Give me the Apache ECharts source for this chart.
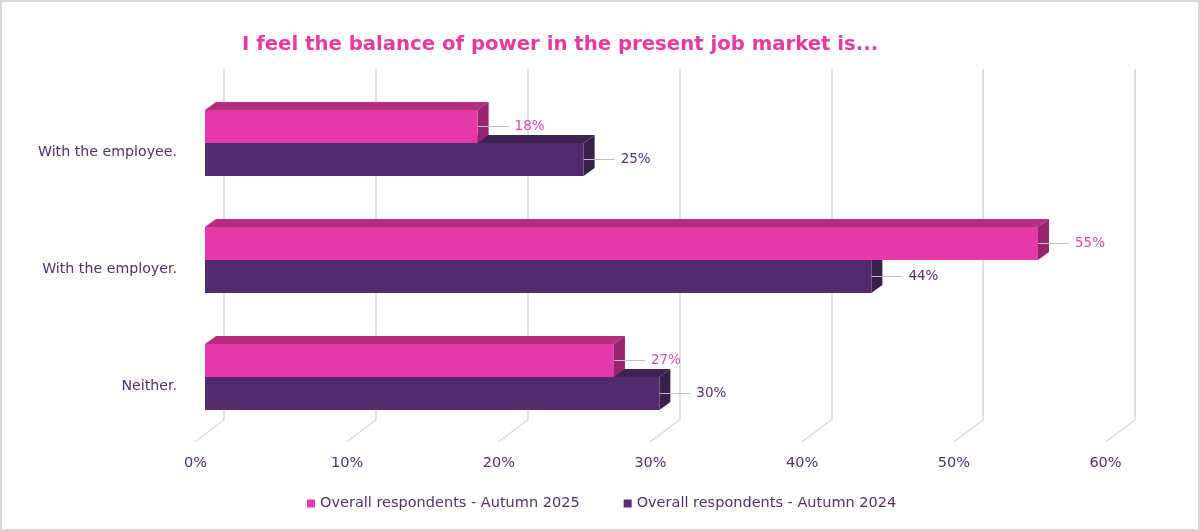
<!DOCTYPE html>
<html><head><meta charset="utf-8">
<script src="https://cdn.jsdelivr.net/npm/echarts/dist/echarts.min.js"></script>
<style>html,body{margin:0;padding:0;background:#fff}#c{width:1200px;height:531px}</style>
</head><body><div id="c"></div>
<script>
const categories = ['With the employee.', 'With the employer.', 'Neither.'];
const seriesNames = ['Overall respondents - Autumn 2025', 'Overall respondents - Autumn 2024'];
const values2025 = [18, 55, 27];
const values2024 = [25, 44, 30];
const xTicks = [0, 10, 20, 30, 40, 50, 60];
const xTickLabels = ['0%', '10%', '20%', '30%', '40%', '50%', '60%'];
const titleText = 'I feel the balance of power in the present job market is...';

const FONT = 'DejaVu Sans';
const DEPTH = [11, -8];
const FLOOR = [-29.5, 22];
const BAR_FRAC = 33 / 117;

const palette = {
  s2025: {front: '#e63aa9', top: '#b32d80', side: '#97246d', label: '#ec45a9'},
  s2024: {front: '#522b6c', top: '#3e2253', side: '#39204b', label: '#51306b'}
};

function barRenderer(c, upper) {
  return function (params, api) {
    const cat = api.value(1), v = api.value(0);
    const p0 = api.coord([0, cat]);
    const p1 = api.coord([v, cat]);
    const h = api.size([0, 1])[1] * BAR_FRAC;
    const x0 = p0[0], x1 = p1[0];
    const yTop = upper ? p0[1] - h : p0[1];
    const yBot = yTop + h;
    const dx = DEPTH[0], dy = DEPTH[1];
    const yc = yTop + h / 2;
    return {
      type: 'group',
      children: [
        {type: 'polygon', shape: {points: [[x0, yTop], [x1, yTop], [x1 + dx, yTop + dy], [x0 + dx, yTop + dy]]}, style: {fill: c.top}},
        {type: 'polygon', shape: {points: [[x1, yTop], [x1 + dx, yTop + dy], [x1 + dx, yBot + dy], [x1, yBot]]}, style: {fill: c.side}},
        {type: 'rect', shape: {x: x0, y: yTop, width: x1 - x0, height: h}, style: {fill: c.front}},
        {type: 'line', shape: {x1: x1, y1: yc, x2: x1 + 31, y2: yc}, style: {stroke: '#bfbfbf', lineWidth: 1}},
        {type: 'text', x: x1 + 37, y: yc, style: {text: v + '%', fill: c.label, fontSize: 13.5, fontFamily: FONT, verticalAlign: 'middle', align: 'left'}}
      ]
    };
  };
}

const chart = echarts.init(document.getElementById('c'));
chart.setOption({
  backgroundColor: '#fff',
  animation: false,
  title: {
    text: titleText, left: 242, top: 35, padding: 0,
    textStyle: {fontSize: 19.7, fontWeight: 'bold', color: '#e8399f', fontFamily: FONT}
  },
  legend: {
    data: seriesNames, left: 307, top: 496, padding: 0, icon: 'rect', itemWidth: 8, itemHeight: 8, itemGap: 44,
    textStyle: {fontSize: 14.5, color: '#51306b', fontFamily: FONT}
  },
  graphic: [{type: 'rect', shape: {x: 1, y: 1, width: 1198, height: 529}, style: {fill: 'none', stroke: '#d9d9d9', lineWidth: 2}, silent: true}],
  grid: [
    {left: 205, right: 86.3, top: 84.5, bottom: 95.5},
    {left: 224, right: 65, top: 69, bottom: 111},
    {left: 195.5, right: 94.5, top: 100, bottom: 89}
  ],
  xAxis: [
    {gridIndex: 0, type: 'value', min: 0, max: 60, show: false},
    {gridIndex: 1, type: 'value', min: 0, max: 60, interval: 10,
      axisLine: {show: false}, axisTick: {show: false}, axisLabel: {show: false},
      splitLine: {show: true, lineStyle: {color: '#d9d9d9', width: 1.5}}},
    {gridIndex: 2, type: 'value', min: 0, max: 60, interval: 10,
      axisLine: {show: false}, axisTick: {show: false}, splitLine: {show: false},
      axisLabel: {margin: 14, fontSize: 14.5, color: '#51306b', fontFamily: FONT,
        formatter: v => xTickLabels[xTicks.indexOf(v)]}}
  ],
  yAxis: [
    {gridIndex: 0, type: 'category', data: categories, inverse: true,
      axisLine: {show: false}, axisTick: {show: false}, splitLine: {show: false},
      axisLabel: {margin: 28, fontSize: 14.2, color: '#51306b', fontFamily: FONT, verticalAlign: 'top', lineHeight: 18}},
    {gridIndex: 1, type: 'value', min: 0, max: 1, show: false},
    {gridIndex: 2, type: 'value', min: 0, max: 1, show: false}
  ],
  series: [
    {
      type: 'custom', name: seriesNames[0], xAxisIndex: 0, yAxisIndex: 0, z: 4,
      itemStyle: {color: palette.s2025.front},
      encode: {x: 0, y: 1},
      data: values2025.map((v, i) => [v, i]),
      renderItem: barRenderer(palette.s2025, true)
    },
    {
      type: 'custom', name: seriesNames[1], xAxisIndex: 0, yAxisIndex: 0, z: 3,
      itemStyle: {color: palette.s2024.front},
      encode: {x: 0, y: 1},
      data: values2024.map((v, i) => [v, i]),
      renderItem: barRenderer(palette.s2024, false)
    },
    {
      type: 'custom', xAxisIndex: 1, yAxisIndex: 1, z: 1, silent: true,
      data: xTicks.map(v => [v, 0]),
      encode: {x: 0, y: 1},
      renderItem: function (params, api) {
        const p = api.coord([api.value(0), 0]);
        return {type: 'line', shape: {x1: p[0], y1: p[1], x2: p[0] + FLOOR[0], y2: p[1] + FLOOR[1]},
          style: {stroke: '#d9d9d9', lineWidth: 1.5}};
      }
    }
  ]
});
</script></body></html>
